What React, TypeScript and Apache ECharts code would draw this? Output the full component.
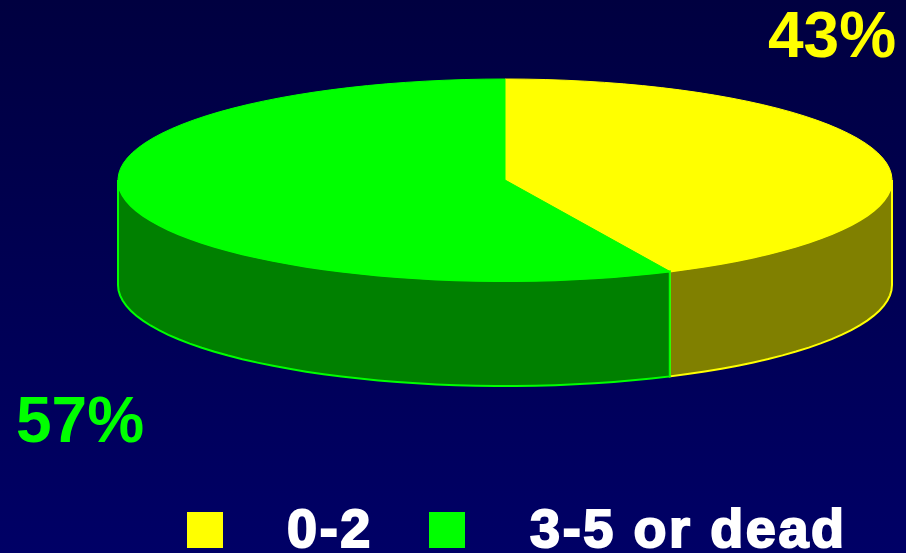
import React, { useEffect, useRef } from "react";
import * as echarts from "echarts";

const categories = ["0-2", "3-5 or dead"];
const shares = [43, 57];
const percentLabels = ["43%", "57%"];
const topColors = ["#ffff00", "#00ff00"];
const wallColors = ["#808000", "#008000"];

const W = 906;
const H = 553;
const CX = 505;
const CY = 180;
const RX = 387;
const RY = 101;
const DEPTH = 105;
const FONT = '"Liberation Sans", Arial, sans-serif';

const pt = (deg: number, dy = 0): number[] => {
  const a = (deg * Math.PI) / 180;
  return [CX + RX * Math.sin(a), CY + dy - RY * Math.cos(a)];
};

const arc = (from: number, to: number, dy = 0): number[][] => {
  const out: number[][] = [];
  const n = Math.max(2, Math.ceil(Math.abs(to - from) / 3));
  for (let i = 0; i <= n; i++) out.push(pt(from + ((to - from) * i) / n, dy));
  return out;
};

const label = (
  text: string,
  x: number,
  y: number,
  size: number,
  lineHeight: number,
  fill: string,
  strokeWidth: number
) => ({
  type: "text",
  x,
  y,
  style: {
    text,
    fill,
    stroke: strokeWidth > 0 ? fill : "none",
    lineWidth: strokeWidth,
    lineJoin: "round",
    font: `bold ${size}px ${FONT}`,
    lineHeight,
    textAlign: "left",
    textVerticalAlign: "top",
  },
});

export default function App() {
  const ref = useRef<HTMLDivElement>(null);

  useEffect(() => {
    document.body.style.margin = "0";
    const chart = echarts.init(ref.current!, undefined, { renderer: "svg" });
    const total = shares.reduce((a, b) => a + b, 0);
    let acc = 0;
    const data = shares.map((v, i) => {
      const start = (acc / total) * 360;
      acc += v;
      return { name: categories[i], value: [start, (acc / total) * 360, i] };
    });

    chart.setOption({
      animation: false,
      backgroundColor: {
        type: "linear",
        x: 0,
        y: 0,
        x2: 0,
        y2: 1,
        colorStops: [
          { offset: 0, color: "#000040" },
          { offset: 1, color: "#000066" },
        ],
      },
      series: [
        {
          type: "custom",
          coordinateSystem: "none",
          silent: true,
          data,
          renderItem: (_p: unknown, api: any) => {
            const start = api.value(0);
            const end = api.value(1);
            const i = api.value(2);
            const children: any[] = [];
            const wallFrom = Math.max(start, 90);
            const wallTo = Math.min(end, 270);
            if (wallTo > wallFrom) {
              children.push({
                type: "polygon",
                shape: { points: [...arc(wallFrom, wallTo, 0), ...arc(wallTo, wallFrom, DEPTH)] },
                style: { fill: wallColors[i], stroke: topColors[i], lineWidth: 2 },
              });
            }
            children.push({
              type: "polygon",
              shape: { points: [[CX, CY], ...arc(start, end, 0)] },
              style: { fill: topColors[i], stroke: topColors[i], lineWidth: 1 },
            });
            return { type: "group", children };
          },
        },
      ],
      graphic: [
        label(percentLabels[0], 768, 3, 64, 64, topColors[0], 0),
        label(percentLabels[1], 16, 388, 64, 64, topColors[1], 0),
        { type: "rect", shape: { x: 187, y: 512, width: 36, height: 36 }, style: { fill: topColors[0] } },
        { type: "rect", shape: { x: 429, y: 512, width: 36, height: 36 }, style: { fill: topColors[1] } },
        label(categories[0], 287, 505, 54, 46, "#ffffff", 2),
        label(categories[1], 530, 505, 54, 46, "#ffffff", 2),
      ],
    });

    // The legend words are set with a little tracking in the reference.
    ref.current!.querySelectorAll("text").forEach((el) => {
      if (categories.includes(el.textContent || "")) {
        (el as SVGTextElement).style.letterSpacing = "2.6px";
      }
    });

    return () => chart.dispose();
  }, []);

  return <div ref={ref} style={{ width: W, height: H }} />;
}
